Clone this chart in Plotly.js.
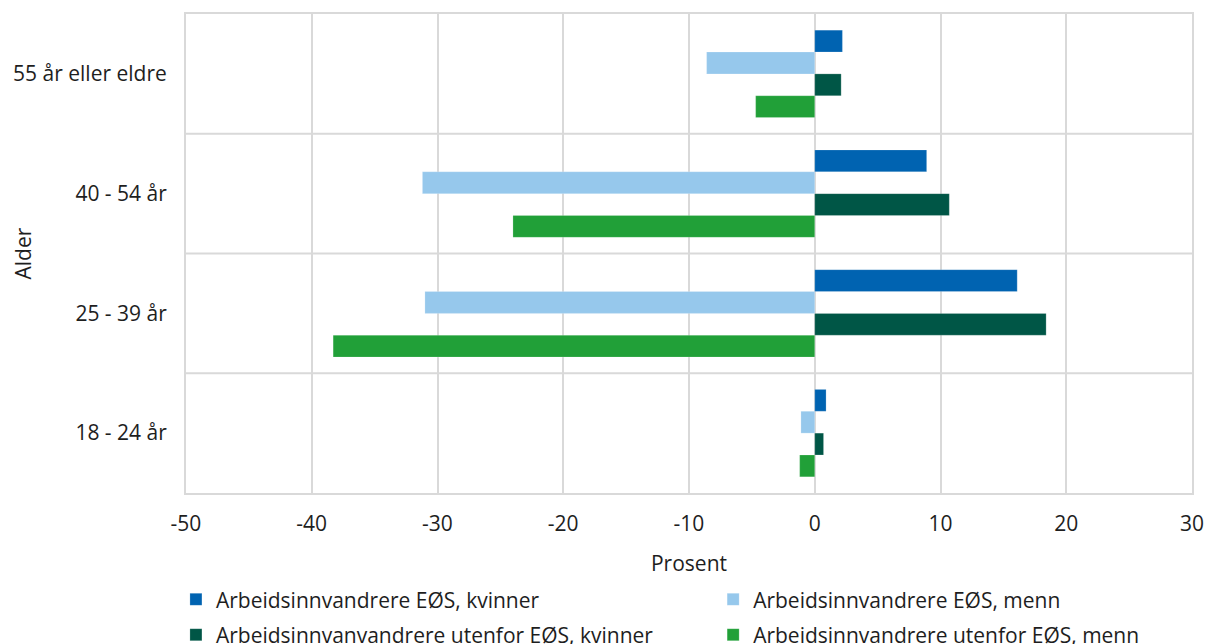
<!DOCTYPE html>
<html>
<head>
<meta charset="utf-8">
<script src="https://cdn.plot.ly/plotly-3.0.1.min.js"></script>
<style>body{margin:0;padding:0;background:#fff;}#chart{width:1206px;height:644px;}</style>
</head>
<body>
<div id="chart"></div>
<script>
const categories = ["18 - 24 år", "25 - 39 år", "40 - 54 år", "55 år eller eldre"];
const seriesNames = [
  "Arbeidsinnvandrere EØS, kvinner",
  "Arbeidsinnvandrere EØS, menn",
  "Arbeidsinnvanvandrere utenfor EØS, kvinner",
  "Arbeidsinnvandrere utenfor EØS, menn"
];
const eosKvinner = [0.9, 16.1, 8.9, 2.2];
const eosMenn = [-1.1, -31.0, -31.2, -8.6];
const utenforKvinner = [0.7, 18.4, 10.7, 2.1];
const utenforMenn = [-1.2, -38.3, -24.0, -4.7];
const xTicks = [-50, -40, -30, -20, -10, 0, 10, 20, 30];
const colors = ["#0063b1", "#96c8ec", "#005646", "#21a038"];
const legendOf = ["legend", "legend2", "legend", "legend2"];

const seriesData = [eosKvinner, eosMenn, utenforKvinner, utenforMenn];
// add in reverse so the first series appears at the top of each group
const traces = [];
for (let i = seriesData.length - 1; i >= 0; i--) {
  traces.push({
    type: "bar",
    orientation: "h",
    name: seriesNames[i],
    legend: legendOf[i],
    legendgroup: "g" + i,
    legendrank: i + 1,
    y: categories,
    x: seriesData[i],
    marker: {color: colors[i], line: {color: "rgba(255,255,255,0.4)", width: 0.5}},
    hoverinfo: "x+name"
  });
}

const boundaries = [];
for (let k = 0; k < categories.length - 1; k++) {
  boundaries.push({
    type: "line", xref: "paper", yref: "y", x0: 0, x1: 1, y0: k + 0.5, y1: k + 0.5,
    line: {color: "#d9d9d9", width: 2}, layer: "below"
  });
}

const font = "'Open Sans', 'Noto Sans', sans-serif";
const txt = "#1e1e1e";
const fs = 21;
const legendBase = {
  orientation: "v", traceorder: "grouped",
  xanchor: "left", y: -0.18, yanchor: "top",
  font: {family: font, size: fs, color: txt},
  bgcolor: "rgba(0,0,0,0)", tracegroupgap: 5, itemclick: false
};
const layout = {
  width: 1206, height: 644,
  margin: {l: 186, r: 14, t: 14, b: 151, autoexpand: false},
  paper_bgcolor: "#fff", plot_bgcolor: "#fff",
  font: {family: font, size: fs, color: txt},
  barmode: "group",
  bargap: 0.27,
  bargroupgap: 0,
  showlegend: true,
  legend: Object.assign({}, legendBase, {x: -0.01}),
  legend2: Object.assign({}, legendBase, {x: 0.524}),
  xaxis: {
    range: [-50, 30], tickvals: xTicks, ticktext: xTicks.map(String),
    showgrid: true, gridcolor: "#d9d9d9", gridwidth: 2,
    zeroline: true, zerolinecolor: "#d9d9d9", zerolinewidth: 2,
    showline: true, linecolor: "#d9d9d9", linewidth: 2, mirror: true,
    ticks: "", ticklabelstandoff: 11, automargin: false,
    title: {text: "Prosent", font: {family: font, size: fs, color: txt}, standoff: 20},
    fixedrange: true
  },
  yaxis: {
    type: "category", categoryorder: "array", categoryarray: categories,
    range: [-0.5, 3.5], automargin: false,
    showgrid: false, zeroline: false,
    showline: true, linecolor: "#d9d9d9", linewidth: 2, mirror: true,
    ticks: "", ticklabelstandoff: 13,
    fixedrange: true
  },
  annotations: [{
    text: "Alder", xref: "paper", yref: "paper", x: -0.163, y: 0.5,
    xanchor: "center", yanchor: "middle", textangle: -90, showarrow: false,
    font: {family: font, size: fs, color: txt}
  }],
  shapes: boundaries
};

Plotly.newPlot("chart", traces, layout, {displayModeBar: false, staticPlot: true});
</script>
</body>
</html>
